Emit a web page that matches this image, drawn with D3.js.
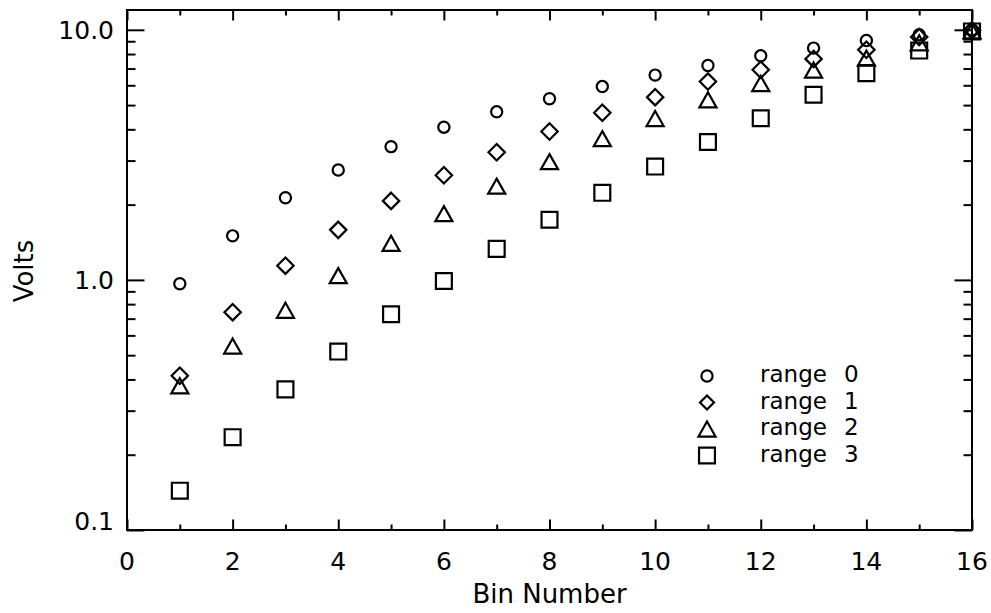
<!DOCTYPE html>
<html>
<head>
<meta charset="utf-8">
<script src="https://cdn.jsdelivr.net/npm/d3@7"></script>
<style>
  html, body { margin: 0; padding: 0; background: #fff; }
  svg { display: block; }
  text { font-family: "DejaVu Sans", "Liberation Sans", Arial, sans-serif; fill: #000; }
</style>
</head>
<body>
<svg id="chart" width="991" height="613"></svg>
<script>
// ---- data ----
const bins = [1, 2, 3, 4, 5, 6, 7, 8, 9, 10, 11, 12, 13, 14, 15, 16];
const range0 = [0.965, 1.50, 2.13, 2.75, 3.41, 4.08, 4.70, 5.30, 5.93, 6.59, 7.20, 7.87, 8.45, 9.06, 9.55, 10.0];
const range1 = [0.414, 0.743, 1.14, 1.585, 2.07, 2.62, 3.24, 3.92, 4.66, 5.38, 6.21, 6.92, 7.65, 8.32, 9.35, 9.95];
const range2 = [0.377, 0.544, 0.756, 1.04, 1.40, 1.84, 2.37, 2.97, 3.67, 4.42, 5.25, 6.10, 6.90, 7.70, 8.87, 9.90];
const range3 = [0.1436, 0.235, 0.365, 0.517, 0.729, 0.99, 1.33, 1.74, 2.23, 2.84, 3.56, 4.43, 5.50, 6.71, 8.26, 9.85];
const seriesNames = ["range 0", "range 1", "range 2", "range 3"];
const xMajorTicks = [0, 2, 4, 6, 8, 10, 12, 14, 16];
const xMinorTicks = [1, 3, 5, 7, 9, 11, 13, 15];
const yMajorTicks = [0.1, 1, 10];
const yTickLabels = ["0.1", "1.0", "10.0"];
const yMinorTicks = [0.2, 0.3, 0.4, 0.5, 0.6, 0.7, 0.8, 0.9, 2, 3, 4, 5, 6, 7, 8, 9];
const xTitle = "Bin Number";
const yTitle = "Volts";

// ---- layout ----
const svg = d3.select("#chart");
const L = 127, R = 972, T = 10, B = 530;
const x = d3.scaleLinear().domain([0, 16]).range([L, R]);
const y = d3.scaleLog().domain([0.1, 12]).range([B, T]);

const series = [range0, range1, range2, range3];

// custom symbol types (IDL-like)
const symCircle = { draw(c, s) { const r = s; c.moveTo(r, 0); c.arc(0, 0, r, 0, 2 * Math.PI); } };
const symDiamond = { draw(c, s) { const r = s; c.moveTo(0, -r); c.lineTo(r, 0); c.lineTo(0, r); c.lineTo(-r, 0); c.closePath(); } };
const symTriangle = { draw(c, s) { const w = s * 1.04, h = s * 0.92; c.moveTo(0, -h); c.lineTo(w, h); c.lineTo(-w, h); c.closePath(); } };
const symSquare = { draw(c, s) { const r = s * 0.97; c.moveTo(-r, -r); c.lineTo(r, -r); c.lineTo(r, r); c.lineTo(-r, r); c.closePath(); } };
const symTypes = [symCircle, symDiamond, symTriangle, symSquare];
const symSizes = [5.6, 8.2, 8.2, 8.2];

// frame
svg.append("rect").attr("x", L).attr("y", T).attr("width", R - L).attr("height", B - T)
  .attr("fill", "none").attr("stroke", "#000").attr("stroke-width", 2);

// x axes (ticks inward)
function xAxis(g, ticks, size, orient) {
  const ax = (orient === "bottom" ? d3.axisBottom(x) : d3.axisTop(x))
    .tickValues(ticks).tickSizeInner(-size).tickSizeOuter(0).tickFormat("");
  g.call(ax);
  g.select(".domain").remove();
  g.selectAll(".tick line").attr("stroke", "#000").attr("stroke-width", 2);
}
xAxis(svg.append("g").attr("transform", `translate(0,${B})`), xMajorTicks, 10.5, "bottom");
xAxis(svg.append("g").attr("transform", `translate(0,${B})`), xMinorTicks, 5.5, "bottom");
xAxis(svg.append("g").attr("transform", `translate(0,${T})`), xMajorTicks, 10.5, "top");
xAxis(svg.append("g").attr("transform", `translate(0,${T})`), xMinorTicks, 5.5, "top");

function yAxis(g, ticks, size, orient) {
  const ax = (orient === "left" ? d3.axisLeft(y) : d3.axisRight(y))
    .tickValues(ticks).tickSizeInner(-size).tickSizeOuter(0).tickFormat("");
  g.call(ax);
  g.select(".domain").remove();
  g.selectAll(".tick line").attr("stroke", "#000").attr("stroke-width", 2);
}
yAxis(svg.append("g").attr("transform", `translate(${L},0)`), yMajorTicks, 17.5, "left");
yAxis(svg.append("g").attr("transform", `translate(${L},0)`), yMinorTicks, 8.5, "left");
yAxis(svg.append("g").attr("transform", `translate(${R},0)`), yMajorTicks, 17.5, "right");
yAxis(svg.append("g").attr("transform", `translate(${R},0)`), yMinorTicks, 8.5, "right");

// tick labels
svg.append("g").selectAll("text").data(xMajorTicks).join("text")
  .attr("x", d => x(d)).attr("y", 570)
  .attr("text-anchor", "middle").attr("font-size", 25)
  .text(d => String(d));

svg.append("g").selectAll("text").data(yMajorTicks).join("text")
  .attr("x", 114).attr("y", (d, i) => y(d) + (i === 0 ? 0 : 9))
  .attr("text-anchor", "end").attr("font-size", 25)
  .text((d, i) => yTickLabels[i]);

// titles
svg.append("text").attr("x", (L + R) / 2).attr("y", 603)
  .attr("text-anchor", "middle").attr("font-size", 26).text(xTitle);
svg.append("text").attr("transform", `translate(33,271) rotate(-90)`)
  .attr("text-anchor", "middle").attr("font-size", 26).text(yTitle);

// points
series.forEach((vals, si) => {
  const sym = d3.symbol().type(symTypes[si]).size(symSizes[si]);
  svg.append("g").selectAll("path").data(vals).join("path")
    .attr("d", sym)
    .attr("transform", (d, i) => `translate(${x(bins[i])},${y(d)})`)
    .attr("fill", "none").attr("stroke", "#000").attr("stroke-width", 2.2);
});

// legend
const lg = svg.append("g");
const legTop = 382, legStep = 26.5;
seriesNames.forEach((name, si) => {
  const base = legTop + si * legStep;
  const sym = d3.symbol().type(symTypes[si]).size(si === 0 ? 5.6 : (si === 1 ? 7 : 8.2));
  lg.append("path").attr("d", sym)
    .attr("transform", `translate(707,${base - 6})`)
    .attr("fill", "none").attr("stroke", "#000").attr("stroke-width", 2.2);
  const parts = name.split(" ");
  const t = lg.append("text").attr("y", base).attr("font-size", 23);
  t.append("tspan").attr("x", 760).text(parts[0]);
  t.append("tspan").attr("x", 844).text(parts[1]);
});
</script>
</body>
</html>
